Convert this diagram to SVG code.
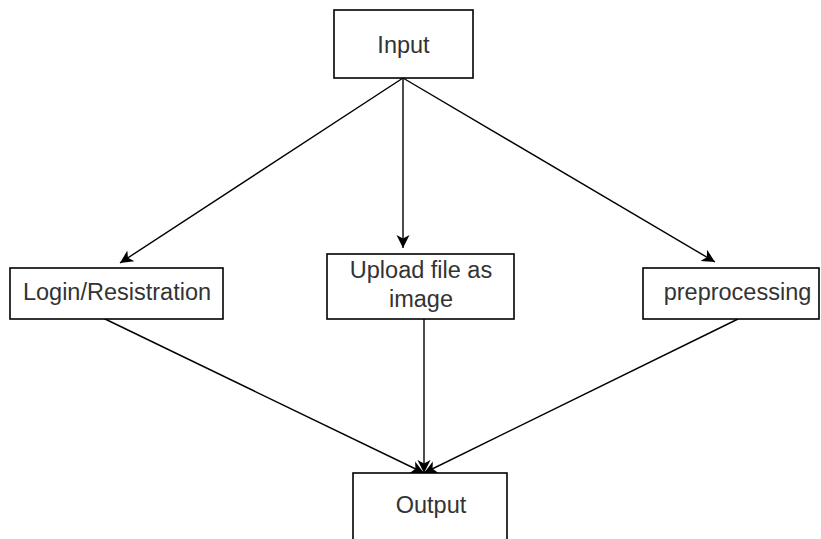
<svg xmlns="http://www.w3.org/2000/svg" width="821" height="539" viewBox="0 0 821 539">
<style>
.box{fill:#fff;stroke:#000;stroke-width:1.6}
.lbl{font-family:"Liberation Sans",Arial,sans-serif;font-size:23.5px;fill:#333;text-anchor:middle}
.edge{stroke:#000;stroke-width:1.4;fill:none;marker-end:url(#ah)}
</style>
<defs>
<marker id="ah" markerUnits="userSpaceOnUse" markerWidth="16" markerHeight="14" refX="13" refY="7" orient="auto">
<path d="M0,0.5 L13,7 L0,13.5 L3.5,7 Z" fill="#000"/>
</marker>
</defs>
<rect width="821" height="539" fill="#fff"/>
<g id="edges">
<line class="edge" x1="403" y1="78" x2="120" y2="263"/>
<line class="edge" x1="403" y1="78" x2="403" y2="248"/>
<line class="edge" x1="403" y1="78" x2="715" y2="262"/>
<line class="edge" x1="103" y1="318" x2="424" y2="473"/>
<line class="edge" x1="424" y1="319" x2="424" y2="473"/>
<line class="edge" x1="738" y1="319" x2="424" y2="473"/>
</g>
<g id="input">
<rect class="box" x="334" y="10" width="139" height="68"/>
<text class="lbl" x="403.5" y="53">Input</text>
</g>
<g id="login">
<rect class="box" x="10" y="268" width="213" height="51"/>
<text class="lbl" x="117" y="300">Login/Resistration</text>
</g>
<g id="upload">
<rect class="box" x="327" y="254" width="187" height="65"/>
<text class="lbl" x="421" y="278">Upload file as</text>
<text class="lbl" x="421" y="307">image</text>
</g>
<g id="preprocessing">
<rect class="box" x="643" y="268" width="176" height="51"/>
<text class="lbl" x="737.5" y="300">preprocessing</text>
</g>
<g id="output">
<rect class="box" x="353" y="473" width="154" height="80"/>
<text class="lbl" x="431" y="513">Output</text>
</g>
</svg>
